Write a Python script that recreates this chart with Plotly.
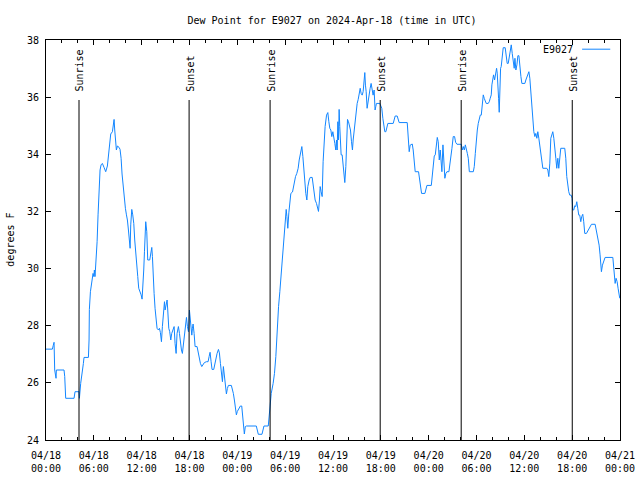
import pandas as pd
import plotly.graph_objects as go

# ---- data (hours since 2024-04-18 00:00 UTC, dew point in F) ----
hours = [
    0.00, 0.80, 0.90, 1.01, 1.09, 1.26, 1.30, 1.43, 2.26, 2.35, 2.47, 3.52, 3.64, 4.14, 4.19, 4.35, 4.56, 4.69, 4.77, 5.32,
    5.40, 5.44, 5.57, 5.74, 5.90, 6.00, 6.07, 6.15, 6.24, 6.41, 6.53, 6.66, 6.78, 6.91, 7.07, 7.28, 7.49, 7.70, 7.83, 7.95,
    8.12, 8.33, 8.45, 8.54, 8.62, 8.71, 8.83, 8.96, 9.17, 9.29, 9.42, 9.54, 9.67, 9.83, 9.96, 10.09, 10.21, 10.34, 10.46, 10.55,
    10.63, 10.76, 10.88, 11.01, 11.13, 11.26, 11.38, 11.51, 11.63, 11.80, 11.93, 12.05, 12.14, 12.26, 12.35, 12.43, 12.51, 12.64, 12.76, 13.01,
    13.14, 13.27, 13.35, 13.43, 13.56, 13.68, 13.81, 13.93, 14.10, 14.23, 14.35, 14.48, 14.60, 14.73, 14.86, 14.94, 15.06, 15.19, 15.27, 15.40,
    15.52, 15.65, 15.77, 15.90, 16.07, 16.19, 16.32, 16.44, 16.61, 16.74, 16.86, 16.99, 17.11, 17.24, 17.36, 17.49, 17.62, 17.74, 17.87, 17.99,
    18.16, 18.29, 18.37, 18.45, 18.58, 18.70, 18.95, 19.08, 19.20, 19.37, 19.54, 19.70, 19.87, 20.12, 20.33, 20.46, 20.58, 20.71, 20.83, 21.04,
    21.17, 21.29, 21.46, 21.63, 21.75, 21.88, 22.00, 22.13, 22.25, 22.38, 22.50, 22.63, 22.75, 22.88, 23.25, 23.38, 23.50, 23.63, 23.75, 23.88,
    24.00, 24.17, 24.38, 24.55, 24.63, 24.80, 24.88, 25.00, 25.13, 26.38, 26.50, 26.63, 27.09, 27.21, 27.34, 27.88, 27.96, 28.05, 28.13, 28.25,
    28.49, 28.66, 28.83, 29.00, 29.17, 29.33, 29.46, 29.58, 29.71, 29.83, 29.96, 30.04, 30.13, 30.22, 30.33, 30.46, 30.58, 30.71, 30.92, 31.05,
    31.17, 31.30, 31.46, 31.63, 31.76, 31.92, 32.09, 32.22, 32.34, 32.47, 32.59, 32.72, 32.84, 33.01, 33.14, 33.39, 33.51, 33.64, 33.76, 33.93,
    34.05, 34.18, 34.30, 34.39, 34.51, 34.64, 34.76, 34.89, 35.01, 35.19, 35.35, 35.48, 35.60, 35.73, 35.85, 35.98, 36.10, 36.23, 36.35, 36.44,
    36.52, 36.61, 36.69, 36.77, 36.85, 36.94, 37.02, 37.15, 37.27, 37.40, 37.48, 37.61, 37.73, 37.82, 37.94, 38.07, 38.19, 38.32, 38.44, 38.53,
    38.65, 38.78, 38.90, 39.03, 39.16, 39.28, 39.41, 39.53, 39.66, 39.78, 39.91, 39.99, 40.07, 40.16, 40.28, 40.41, 40.53, 40.66, 40.78, 40.91,
    41.03, 41.16, 41.28, 41.37, 41.45, 41.87, 42.00, 42.12, 42.25, 42.37, 42.50, 42.63, 42.75, 42.88, 43.55, 43.68, 43.80, 44.05, 44.18, 44.30,
    45.31, 45.43, 45.56, 45.68, 45.94, 46.06, 46.19, 46.31, 46.73, 46.86, 46.98, 47.11, 47.53, 47.66, 47.78, 48.33, 48.45, 48.58, 48.70, 48.83,
    48.95, 49.08, 49.20, 49.33, 49.45, 49.58, 49.66, 49.79, 49.91, 50.03, 50.16, 50.29, 50.54, 50.67, 50.79, 50.92, 51.08, 51.25, 51.38, 51.55,
    52.09, 52.22, 52.35, 52.47, 52.60, 52.72, 52.85, 52.97, 53.10, 53.60, 53.72, 53.85, 53.97, 54.10, 54.22, 54.35, 54.47, 54.60, 54.72, 54.85,
    54.97, 55.10, 55.22, 55.47, 55.60, 55.72, 55.85, 55.93, 56.02, 56.14, 56.27, 56.39, 56.52, 56.60, 56.68, 56.77, 56.85, 56.93, 57.02, 57.10,
    57.23, 57.35, 57.60, 57.73, 57.85, 57.98, 58.10, 58.23, 58.36, 58.48, 58.61, 58.73, 58.82, 58.94, 59.07, 59.19, 59.32, 59.44, 59.57, 59.69,
    60.07, 60.19, 60.32, 60.44, 60.57, 60.69, 60.82, 60.94, 61.07, 61.19, 61.32, 61.44, 61.57, 61.69, 61.82, 61.94, 62.07, 62.19, 62.32, 62.82,
    62.95, 63.07, 63.20, 63.32, 63.45, 63.57, 63.70, 63.82, 63.95, 64.07, 64.20, 64.32, 64.45, 64.57, 65.07, 65.20, 65.32, 65.45, 65.57, 65.70,
    65.87, 65.99, 66.08, 66.20, 66.33, 66.45, 66.58, 66.70, 66.83, 66.95, 67.08, 67.20, 67.33, 67.45, 67.58, 67.79, 68.00, 68.21, 68.42, 68.88,
    69.05, 69.21, 69.38, 69.50, 69.59, 69.67, 69.80, 69.97, 70.13, 71.10, 71.18, 71.26, 71.39, 71.51, 71.64, 71.76, 71.89, 71.97,
]
dew_point = [
    27.18, 27.18, 27.30, 27.42, 26.45, 26.16, 26.45, 26.45, 26.45, 26.22, 25.46, 25.46, 25.69, 25.69, 25.46, 25.98, 26.33, 26.68, 26.89, 26.89,
    27.50, 28.57, 29.19, 29.48, 29.83, 29.72, 29.95, 29.72, 30.13, 30.94, 31.88, 32.84, 33.45, 33.63, 33.68, 33.54, 33.39, 33.59, 33.92, 34.38,
    34.71, 34.79, 35.08, 35.22, 34.85, 34.38, 34.15, 34.29, 34.24, 34.17, 33.86, 33.31, 32.89, 32.46, 32.11, 31.88, 31.70, 31.35, 31.06, 30.71,
    31.53, 32.07, 31.88, 31.58, 31.00, 30.42, 30.13, 29.72, 29.31, 29.19, 29.08, 28.93, 29.25, 29.95, 30.59, 31.29, 31.64, 31.29, 30.30, 30.30,
    30.59, 30.74, 30.42, 29.72, 29.13, 28.61, 28.20, 27.91, 27.85, 27.91, 27.76, 27.44, 27.97, 28.49, 28.84, 28.55, 28.78, 28.90, 28.55, 27.91,
    27.79, 27.50, 27.73, 27.85, 27.97, 27.38, 27.03, 27.73, 27.97, 27.73, 27.38, 27.15, 27.03, 27.38, 27.73, 28.08, 28.29, 27.97, 27.79, 28.55,
    28.02, 27.67, 27.91, 28.06, 27.73, 27.27, 27.27, 27.09, 26.80, 26.68, 26.57, 26.62, 26.71, 26.74, 26.74, 26.92, 27.07, 26.74, 26.47, 26.47,
    26.68, 26.89, 27.03, 27.17, 27.05, 26.68, 26.22, 26.04, 26.57, 26.16, 25.84, 25.61, 25.80, 25.91, 25.91, 25.80, 25.63, 25.40, 25.05, 24.88,
    25.00, 25.11, 25.19, 25.19, 24.88, 24.47, 24.21, 24.47, 24.49, 24.49, 24.29, 24.20, 24.20, 24.35, 24.49, 24.49, 24.76, 25.22, 25.40, 25.63,
    25.98, 26.33, 26.92, 27.91, 28.67, 29.19, 29.66, 30.18, 30.59, 30.94, 31.35, 31.82, 32.07, 31.82, 31.41, 31.95, 32.34, 32.63, 32.68, 32.92,
    33.10, 33.22, 33.33, 33.51, 33.80, 34.09, 34.27, 33.92, 33.45, 32.98, 32.63, 32.40, 32.87, 33.10, 33.19, 33.19, 32.92, 32.63, 32.40, 32.28,
    32.17, 32.00, 32.40, 32.87, 32.69, 32.52, 33.74, 34.50, 34.97, 35.37, 35.46, 35.14, 34.91, 34.85, 34.62, 34.79, 34.50, 34.38, 34.15, 34.50,
    34.15, 35.14, 34.50, 35.57, 34.97, 34.50, 33.98, 33.98, 33.68, 33.33, 33.01, 33.57, 34.68, 35.22, 35.14, 35.02, 34.85, 34.44, 34.15, 34.50,
    34.85, 35.26, 35.67, 35.78, 35.92, 36.13, 36.31, 36.13, 36.07, 36.19, 36.60, 36.86, 36.42, 36.19, 35.61, 35.90, 36.13, 36.31, 36.48, 36.22,
    36.07, 36.25, 35.55, 35.67, 35.78, 35.78, 35.67, 35.61, 35.26, 34.97, 34.79, 34.79, 34.97, 35.08, 35.08, 35.20, 35.34, 35.34, 35.20, 35.11,
    35.11, 34.38, 34.09, 34.32, 34.36, 34.15, 33.63, 33.39, 33.39, 33.10, 32.81, 32.63, 32.63, 32.81, 32.91, 32.91, 33.22, 33.63, 33.94, 33.98,
    34.44, 34.59, 34.44, 33.80, 34.15, 33.68, 33.39, 34.33, 33.57, 33.16, 33.33, 33.39, 33.39, 33.62, 33.88, 34.21, 34.62, 34.62, 34.42, 34.35,
    34.35, 34.15, 34.27, 34.15, 34.33, 34.21, 34.03, 33.86, 33.39, 33.39, 33.57, 34.03, 34.62, 34.85, 35.08, 35.20, 35.37, 35.37, 35.67, 36.08,
    35.96, 35.84, 35.78, 35.78, 35.84, 35.96, 36.08, 36.43, 36.60, 36.78, 36.60, 36.78, 37.01, 36.84, 36.54, 35.96, 35.47, 36.54, 37.01, 37.07,
    37.48, 37.73, 37.73, 37.36, 37.18, 37.18, 37.38, 37.62, 37.83, 37.53, 37.18, 37.01, 37.36, 36.95, 37.13, 37.45, 37.45, 37.01, 36.72, 36.48,
    36.48, 36.60, 36.72, 36.80, 36.89, 36.66, 36.13, 35.67, 35.26, 34.79, 34.62, 34.73, 34.56, 34.79, 34.56, 34.33, 34.09, 33.86, 33.51, 33.51,
    33.45, 33.22, 33.69, 34.56, 34.67, 34.79, 34.56, 34.03, 33.86, 33.51, 33.86, 33.51, 33.86, 34.21, 34.21, 33.86, 33.22, 32.81, 32.69, 32.57,
    32.57, 32.46, 32.05, 32.05, 32.20, 32.17, 32.34, 32.11, 31.87, 31.87, 31.64, 31.82, 31.90, 31.64, 31.23, 31.23, 31.35, 31.47, 31.55, 31.55,
    31.29, 31.06, 30.82, 30.48, 30.01, 29.89, 30.12, 30.30, 30.39, 30.39, 30.12, 29.72, 29.48, 29.66, 29.54, 29.31, 29.13, 28.96,
]

event_hours = [4.14, 17.95, 28.11, 41.92, 52.08, 66.01]
event_labels = ["Sunrise", "Sunset", "Sunrise", "Sunset", "Sunrise", "Sunset"]

tick_hours = [0, 6, 12, 18, 24, 30, 36, 42, 48, 54, 60, 66, 72]
tick_labels = ["04/18<br>00:00", "04/18<br>06:00", "04/18<br>12:00", "04/18<br>18:00",
               "04/19<br>00:00", "04/19<br>06:00", "04/19<br>12:00", "04/19<br>18:00",
               "04/20<br>00:00", "04/20<br>06:00", "04/20<br>12:00", "04/20<br>18:00",
               "04/21<br>00:00"]

series_name = "E9027"
title_text = "Dew Point for E9027 on 2024-Apr-18 (time in UTC)"
y_label = "degrees F"

# ---- build ----
base = pd.Timestamp("2024-04-18 00:00")
def to_time(h):
    return base + pd.to_timedelta(h, unit="h")

times = [to_time(h) for h in hours]
event_times = [to_time(h) for h in event_hours]
tick_times = [to_time(h) for h in tick_hours]

FONT = "DejaVu Sans Mono"
LINE_COLOR = "#1286ff"

fig = go.Figure()
fig.add_trace(go.Scatter(x=times, y=dew_point, mode="lines", name=series_name,
                         line=dict(color=LINE_COLOR, width=1), showlegend=False))

for t, lab in zip(event_times, event_labels):
    fig.add_shape(type="line", xref="x", yref="paper", x0=t, x1=t, y0=0, y1=0.85,
                  line=dict(color="black", width=1))
    fig.add_annotation(x=t, y=0.866, xref="x", yref="paper", text=lab, textangle=-90,
                       showarrow=False, xanchor="center", yanchor="bottom", xshift=1,
                       font=dict(family=FONT, size=10, color="black"))

# legend (text + sample line, gnuplot style)
fig.add_annotation(x=0.922, y=0.977, xref="paper", yref="paper", text=series_name,
                   showarrow=False, xanchor="right", yanchor="middle",
                   font=dict(family=FONT, size=10, color="black"))
fig.add_shape(type="line", xref="paper", yref="paper", x0=0.934, x1=0.983, y0=0.977, y1=0.977,
              line=dict(color=LINE_COLOR, width=1))

# y axis label
fig.add_annotation(x=-0.0633, y=0.5, xref="paper", yref="paper", text=y_label, textangle=-90,
                   showarrow=False, xanchor="center", yanchor="middle",
                   font=dict(family=FONT, size=10, color="black"))

fig.update_layout(
    width=640, height=480,
    margin=dict(l=46, r=20, t=40, b=40, autoexpand=False),
    paper_bgcolor="white", plot_bgcolor="white",
    font=dict(family=FONT, size=10, color="black"),
    title=dict(text=title_text, x=332 / 640, xref="container",
               y=1 - 20 / 480, yref="container", xanchor="center", yanchor="middle",
               font=dict(family=FONT, size=10, color="black")),
    showlegend=False,
)
fig.update_xaxes(
    type="date", range=[tick_times[0], tick_times[-1]], automargin=False,
    tickvals=tick_times, ticktext=tick_labels,
    ticks="inside", ticklen=5, tickcolor="black", tickwidth=1,
    showline=True, linecolor="black", linewidth=1, mirror="ticks",
    showgrid=False, zeroline=False, ticklabelstandoff=6,
    minor=dict(dtick=2 * 3600 * 1000, tick0=tick_times[0], ticks="inside", ticklen=3,
               tickcolor="black", showgrid=False),
)
fig.update_yaxes(
    range=[24, 38], dtick=2, tick0=24, automargin=False,
    ticks="inside", ticklen=5, tickcolor="black", tickwidth=1,
    showline=True, linecolor="black", linewidth=1, mirror="ticks",
    showgrid=False, zeroline=False, ticklabelstandoff=4,
)

fig.write_html("out.html")
